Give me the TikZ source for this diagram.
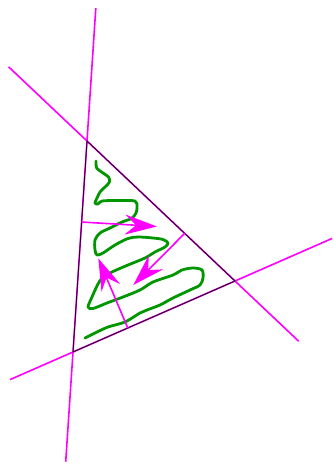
\documentclass[tikz,border=0pt]{standalone}
\usetikzlibrary{calc,arrows.meta}
\definecolor{mag}{RGB}{255,0,255}
\definecolor{grn}{RGB}{0,150,0}
\tikzset{
  magline/.style={draw=mag, line width=1.6pt},
  edge/.style={draw=black!85!mag, line width=0.9pt},
  vec/.style={draw=mag, line width=1.6pt, -{Stealth[length=32pt,width=20pt,inset=11pt]}},
  squiggle/.style={draw=grn, line width=2.8pt, line cap=round, line join=round}
}
\begin{document}
\begin{tikzpicture}[x=1pt,y=-1pt]
\useasboundingbox (0,0) rectangle (333,465);
% vertices
\coordinate (A) at (87,141);
\coordinate (B) at (235,281);
\coordinate (C) at (73,352);
% line ends
\coordinate (L1a) at ($(A)!-0.63!(C)$);
\coordinate (L1b) at ($(A)!1.52!(C)$);
\coordinate (L2a) at ($(A)!-0.53!(B)$);
\coordinate (L2b) at ($(A)!1.43!(B)$);
\coordinate (L3a) at ($(C)!-0.389!(B)$);
\coordinate (L3b) at ($(C)!1.6!(B)$);
\draw[magline] (L1a) -- (L1b);
\draw[magline] (L2a) -- (L2b);
\draw[magline] (L3a) -- (L3b);
% green curve
\draw[squiggle] plot[smooth, tension=0.5] coordinates {
(96,161) (96.7,168) (103,173) (108.5,177) (109.5,182) (105,187) (100,192) (97.5,197) (95,203) (98,204) (102,201) (118,200.5) (135,201) (137,207) (136,213) (131.5,218.5) (122,222) (110,228) (100,233) (95,240) (95,250) (97,255) (103,253) (115,245) (128,238.5) (138,237) (153,238) (163,239.5) (168,243) (165,247) (155,252) (145,258) (128,265) (112,272) (102,278) (97,286) (92,297) (88,307) (93,308.5) (107,303) (123,297) (140,290) (153,282) (173,275) (182,270) (193,268) (202,270) (203,278) (200,285) (190,290) (173,298) (160,305) (147,310) (140,313) (125,322) (108,327) (95,333) (85,338)};
% triangle
\draw[edge] (A) -- (B) -- (C) -- cycle;
% arrows
\coordinate (S1) at ($(A)!0.384!(C)$);
\coordinate (T1) at (157,226.5);
\coordinate (S2) at ($(A)!0.66!(B)$);
\coordinate (T2) at (133.3,285);
\coordinate (S3) at ($(C)!0.338!(B)$);
\coordinate (T3) at (98.3,258.3);
\draw[vec] (S1) -- (T1);
\draw[vec] (S2) -- (T2);
\draw[vec] (S3) -- (T3);
\end{tikzpicture}
\end{document}
